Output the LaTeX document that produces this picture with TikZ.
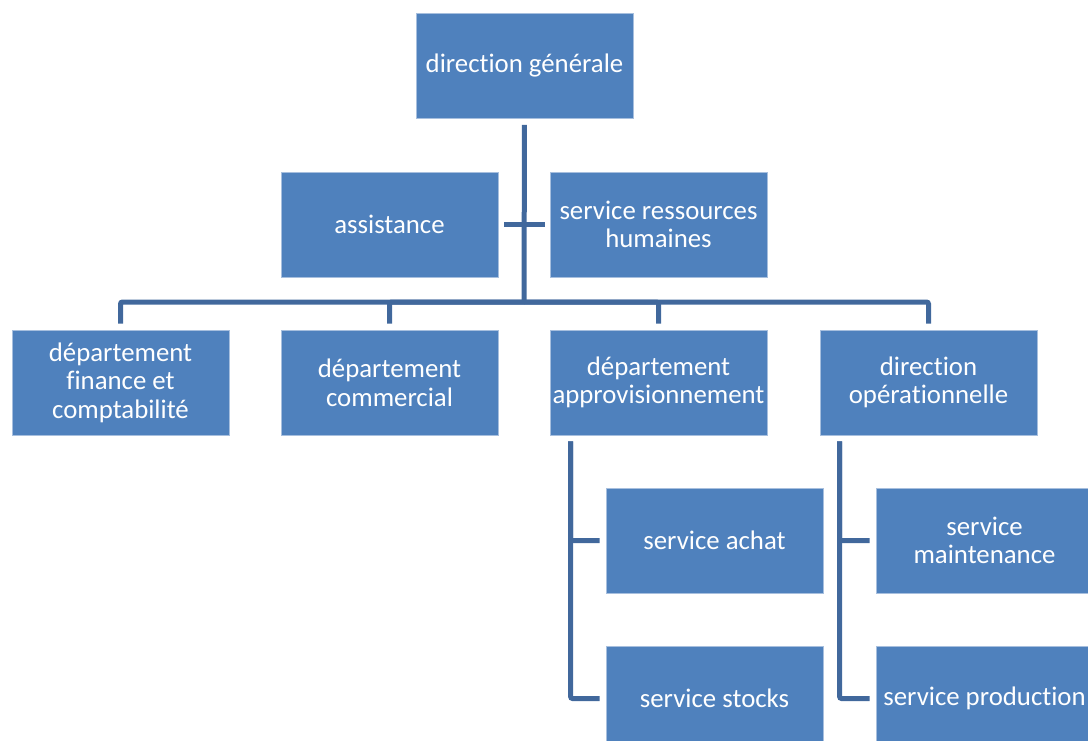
\documentclass[tikz,border=0pt]{standalone}
\usepackage{fontspec}
\setmainfont{Carlito}[Ligatures={NoCommon}]
\usetikzlibrary{calc}
\definecolor{boxfill}{HTML}{4F81BD}
\definecolor{boxedge}{HTML}{A7BFDE}
\definecolor{linkcol}{HTML}{41689C}
\tikzset{
  unit/.style={rectangle, fill=boxfill, draw=boxedge, line width=0.8pt,
    minimum width=217, minimum height=105, inner sep=0pt, text=white,
    align=center, font=\fontsize{26.8}{28.6}\selectfont},
  link/.style={draw=linkcol, line width=5pt, rounded corners=2pt}
}
\begin{document}
\begin{tikzpicture}[x=1pt,y=-1pt]
\useasboundingbox (0,0) rectangle (1088,741);
\clip (0,0) rectangle (1088,741);
% top management
\node[unit] (dg) at (524.5,66) {direction générale};
% staff units
\node[unit] (asst) at (389.5,224.5) {assistance};
\node[unit] (rh) at (658.5,224.5) {service ressources\\humaines};
% departments
\node[unit] (fin) at (120.5,382.5) {département\\finance et\\comptabilité};
\node[unit] (com) at (389.5,382.5) {département\\commercial};
\node[unit] (appro) at (658.5,382.5) {département\\approvisionnement};
\node[unit] (ope) at (928.5,382.5) {direction\\opérationnelle};
% services
\node[unit] (achat) at (714.5,540.5) {service achat};
\node[unit] (stocks) at (714.5,698.5) {service stocks};
\node[unit] (maint) at (984.5,540.5) {service\\maintenance};
\node[unit] (prod) at (984.5,698.5) {service production};
% links
\coordinate (bus) at (524,302);
\draw[link, shorten <=6pt] (dg.south) -- (bus);
\draw[link, shorten <=6pt, shorten >=5pt] (asst.east) -- (rh.west);
\draw[link, shorten >=6pt] (bus) -| (fin.north);
\draw[link, shorten >=6pt] (bus) -| (com.north);
\draw[link, shorten >=6pt] (bus) -| (appro.north);
\draw[link, shorten >=6pt] (bus) -| (ope.north);
\coordinate (ap) at ($(appro.south west)+(21,6)$);
\draw[link, shorten >=6pt] (ap) |- (achat.west);
\draw[link, shorten >=6pt] (ap) |- (stocks.west);
\coordinate (op) at ($(ope.south west)+(20,6)$);
\draw[link, shorten >=6pt] (op) |- (maint.west);
\draw[link, shorten >=6pt] (op) |- (prod.west);
\end{tikzpicture}
\end{document}
